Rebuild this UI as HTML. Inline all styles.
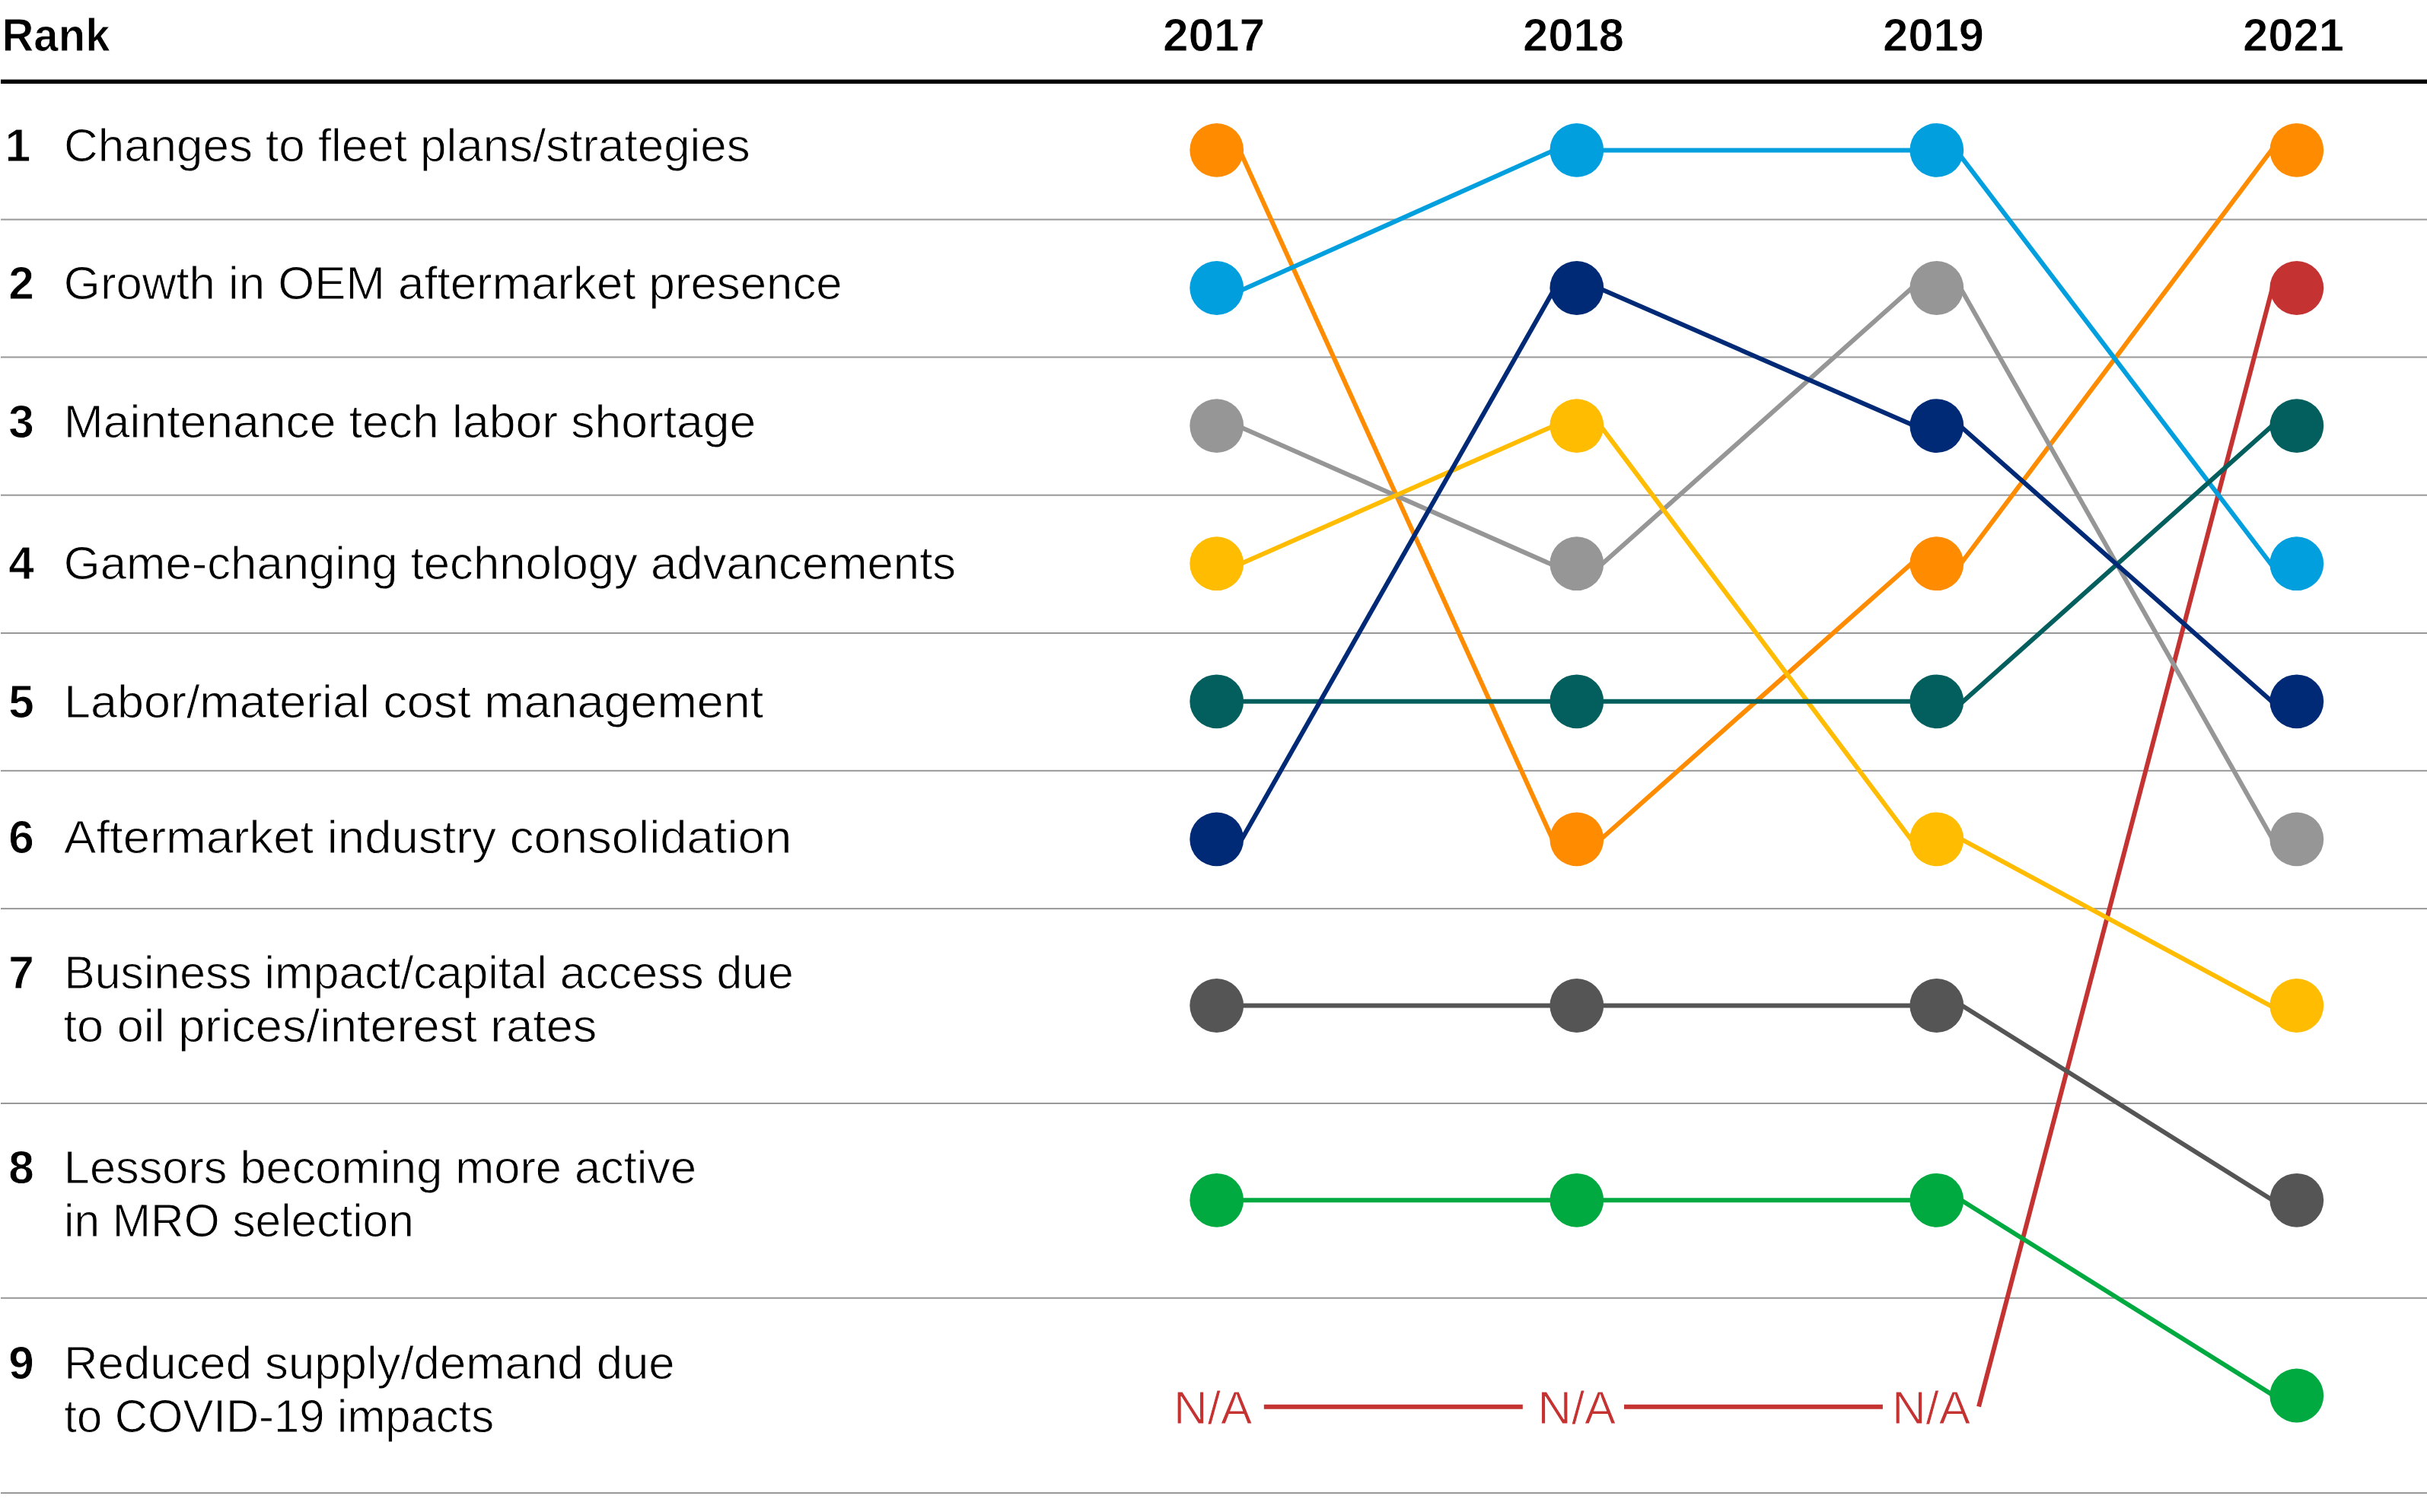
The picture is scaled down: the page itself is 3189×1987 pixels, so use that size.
<!DOCTYPE html>
<html lang="en"><head><meta charset="utf-8"><title>Top MRO industry concerns by rank, 2017-2021</title>
<style>
html,body{margin:0;padding:0;background:#fff;}
body{width:3189px;height:1987px;overflow:hidden;}
svg{display:block;}
text{font-family:"Liberation Sans",Arial,sans-serif;}
.b{font-weight:bold;font-size:60.3px;fill:#000;stroke:#fff;stroke-width:0.9px;}
.r{font-size:60.7px;fill:#000;stroke:#fff;stroke-width:0.9px;}
.na{font-size:60.7px;fill:#C53232;stroke:#fff;stroke-width:0.9px;}
</style></head>
<body>
<svg width="3189" height="1987" viewBox="0 0 3189 1987">
<rect width="3189" height="1987" fill="#fff"/>
<text class="b" x="2.41" y="67.1" textLength="142.03" lengthAdjust="spacingAndGlyphs">Rank</text>
<text class="b" x="1528.00" y="67.1" textLength="134.14" lengthAdjust="spacingAndGlyphs">2017</text>
<text class="b" x="2001.02" y="67.1" textLength="133.01" lengthAdjust="spacingAndGlyphs">2018</text>
<text class="b" x="2474.02" y="67.1" textLength="133.01" lengthAdjust="spacingAndGlyphs">2019</text>
<text class="b" x="2947.12" y="67.1" textLength="133.01" lengthAdjust="spacingAndGlyphs">2021</text>
<rect x="1" y="104.5" width="3188" height="5.5" fill="#000"/>
<rect x="1" y="287.5" width="3188" height="2" fill="#989898"/>
<rect x="1" y="468.4" width="3188" height="2" fill="#989898"/>
<rect x="1" y="649.7" width="3188" height="2" fill="#989898"/>
<rect x="1" y="831" width="3188" height="2" fill="#989898"/>
<rect x="1" y="1011.85" width="3188" height="2" fill="#989898"/>
<rect x="1" y="1193.1" width="3188" height="2" fill="#989898"/>
<rect x="1" y="1449" width="3188" height="2" fill="#989898"/>
<rect x="1" y="1704.8" width="3188" height="2" fill="#989898"/>
<rect x="1" y="1961" width="3188" height="2" fill="#989898"/>
<text class="b" x="23.6" y="212.4" text-anchor="middle">1</text>
<text class="r" x="84.04" y="212.4" textLength="901.69" lengthAdjust="spacingAndGlyphs">Changes to fleet plans/strategies</text>
<text class="b" x="28" y="393.3" text-anchor="middle">2</text>
<text class="r" x="83.85" y="393.3" textLength="1022.79" lengthAdjust="spacingAndGlyphs">Growth in OEM aftermarket presence</text>
<text class="b" x="28" y="574.6" text-anchor="middle">3</text>
<text class="r" x="83.86" y="574.6" textLength="909.45" lengthAdjust="spacingAndGlyphs">Maintenance tech labor shortage</text>
<text class="b" x="28" y="761.4" text-anchor="middle">4</text>
<text class="r" x="83.85" y="761.4" textLength="1172.26" lengthAdjust="spacingAndGlyphs">Game-changing technology advancements</text>
<text class="b" x="28" y="943" text-anchor="middle">5</text>
<text class="r" x="84.12" y="943" textLength="919.06" lengthAdjust="spacingAndGlyphs">Labor/material cost management</text>
<text class="b" x="28" y="1121.3" text-anchor="middle">6</text>
<text class="r" x="84.05" y="1121.3" textLength="956.15" lengthAdjust="spacingAndGlyphs">Aftermarket industry consolidation</text>
<text class="b" x="28" y="1299.2" text-anchor="middle">7</text>
<text class="r" x="84.35" y="1299.2" textLength="958.55" lengthAdjust="spacingAndGlyphs">Business impact/capital access due</text>
<text class="r" x="83.56" y="1369.4" textLength="700.83" lengthAdjust="spacingAndGlyphs">to oil prices/interest rates</text>
<text class="b" x="28" y="1555" text-anchor="middle">8</text>
<text class="r" x="83.85" y="1555" textLength="831.20" lengthAdjust="spacingAndGlyphs">Lessors becoming more active</text>
<text class="r" x="84.02" y="1625.2" textLength="459.72" lengthAdjust="spacingAndGlyphs">in MRO selection</text>
<text class="b" x="28" y="1811.5" text-anchor="middle">9</text>
<text class="r" x="84.02" y="1811.5" textLength="802.64" lengthAdjust="spacingAndGlyphs">Reduced supply/demand due</text>
<text class="r" x="84.31" y="1881.7" textLength="564.79" lengthAdjust="spacingAndGlyphs">to COVID-19 impacts</text>
<g stroke-width="6.0" fill="none"><line x1="1660.8" y1="1848.8" x2="2000.8" y2="1848.8" stroke="#C53232"/><line x1="2134" y1="1848.8" x2="2473.9" y2="1848.8" stroke="#C53232"/><line x1="2600" y1="1848.6" x2="2987.91" y2="370.65" stroke="#C53232"/><line x1="1623.67" y1="186.06" x2="2045.41" y2="1114.88" stroke="#FF8C00"/><line x1="2085.75" y1="1118.62" x2="2530.14" y2="724.18" stroke="#FF8C00"/><line x1="2565.07" y1="755.93" x2="2996.54" y2="181.43" stroke="#FF8C00"/><line x1="1603.2" y1="549.41" x2="2066.04" y2="753.75" stroke="#969696"/><line x1="2086.75" y1="757.48" x2="2530.38" y2="362.31" stroke="#969696"/><line x1="2568.45" y1="365.11" x2="2993.89" y2="1116.44" stroke="#969696"/><line x1="1603.89" y1="752.49" x2="2066.93" y2="548.55" stroke="#FFBC00"/><line x1="2091.74" y1="544.63" x2="2523.11" y2="1119.18" stroke="#FFBC00"/><line x1="2552.09" y1="1089.38" x2="3009.94" y2="1336.09" stroke="#FFBC00"/><line x1="1605.19" y1="392.99" x2="2066.84" y2="186.32" stroke="#029FDF"/><line x1="2105.2" y1="197.4" x2="2511.4" y2="197.4" stroke="#029FDF"/><line x1="2561.02" y1="185.06" x2="2996.09" y2="757.21" stroke="#029FDF"/><line x1="1632.1" y1="921.8" x2="2038.4" y2="921.8" stroke="#035F5E"/><line x1="2105.2" y1="921.8" x2="2511.4" y2="921.8" stroke="#035F5E"/><line x1="2560.15" y1="939.01" x2="3003.52" y2="543.59" stroke="#035F5E"/><line x1="1623.68" y1="1117.09" x2="2050.15" y2="366.21" stroke="#012A76"/><line x1="2076.34" y1="368.09" x2="2540.17" y2="570.23" stroke="#012A76"/><line x1="2558.25" y1="544.4" x2="3003.4" y2="938.09" stroke="#012A76"/><line x1="1632.1" y1="1321.5" x2="2038.4" y2="1321.5" stroke="#555555"/><line x1="2105.2" y1="1321.5" x2="2511.4" y2="1321.5" stroke="#555555"/><line x1="2554.18" y1="1306.53" x2="3008.92" y2="1591.47" stroke="#555555"/><line x1="1632.1" y1="1577.3" x2="2038.4" y2="1577.3" stroke="#00AA40"/><line x1="2105.2" y1="1577.3" x2="2511.4" y2="1577.3" stroke="#00AA40"/><line x1="2553.9" y1="1562.74" x2="3009.29" y2="1847.6" stroke="#00AA40"/></g>
<circle cx="1598.7" cy="197.4" r="35.4" fill="#FF8C00"/><circle cx="2071.8" cy="1102.9" r="35.4" fill="#FF8C00"/><circle cx="2544.8" cy="740.7" r="35.4" fill="#FF8C00"/><circle cx="3017.8" cy="197.4" r="35.4" fill="#FF8C00"/><circle cx="1598.7" cy="378.5" r="35.4" fill="#029FDF"/><circle cx="2071.8" cy="197.4" r="35.4" fill="#029FDF"/><circle cx="2544.8" cy="197.4" r="35.4" fill="#029FDF"/><circle cx="3017.8" cy="740.7" r="35.4" fill="#029FDF"/><circle cx="1598.7" cy="559.6" r="35.4" fill="#969696"/><circle cx="2071.8" cy="740.7" r="35.4" fill="#969696"/><circle cx="2544.8" cy="378.5" r="35.4" fill="#969696"/><circle cx="3017.8" cy="1102.9" r="35.4" fill="#969696"/><circle cx="1598.7" cy="740.7" r="35.4" fill="#FFBC00"/><circle cx="2071.8" cy="559.6" r="35.4" fill="#FFBC00"/><circle cx="2544.8" cy="1102.9" r="35.4" fill="#FFBC00"/><circle cx="3017.8" cy="1321.5" r="35.4" fill="#FFBC00"/><circle cx="1598.7" cy="921.8" r="35.4" fill="#035F5E"/><circle cx="2071.8" cy="921.8" r="35.4" fill="#035F5E"/><circle cx="2544.8" cy="921.8" r="35.4" fill="#035F5E"/><circle cx="3017.8" cy="559.6" r="35.4" fill="#035F5E"/><circle cx="1598.7" cy="1102.9" r="35.4" fill="#012A76"/><circle cx="2071.8" cy="378.5" r="35.4" fill="#012A76"/><circle cx="2544.8" cy="559.6" r="35.4" fill="#012A76"/><circle cx="3017.8" cy="921.8" r="35.4" fill="#012A76"/><circle cx="1598.7" cy="1321.5" r="35.4" fill="#555555"/><circle cx="2071.8" cy="1321.5" r="35.4" fill="#555555"/><circle cx="2544.8" cy="1321.5" r="35.4" fill="#555555"/><circle cx="3017.8" cy="1577.3" r="35.4" fill="#555555"/><circle cx="1598.7" cy="1577.3" r="35.4" fill="#00AA40"/><circle cx="2071.8" cy="1577.3" r="35.4" fill="#00AA40"/><circle cx="2544.8" cy="1577.3" r="35.4" fill="#00AA40"/><circle cx="3017.8" cy="1834" r="35.4" fill="#00AA40"/><circle cx="3017.8" cy="378.5" r="35.4" fill="#C53232"/>
<text class="na" x="1542.10" y="1870.8" textLength="103.17" lengthAdjust="spacingAndGlyphs">N/A</text>
<text class="na" x="2020.53" y="1870.8" textLength="102.54" lengthAdjust="spacingAndGlyphs">N/A</text>
<text class="na" x="2485.90" y="1870.8" textLength="103.17" lengthAdjust="spacingAndGlyphs">N/A</text>
</svg>
</body></html>
